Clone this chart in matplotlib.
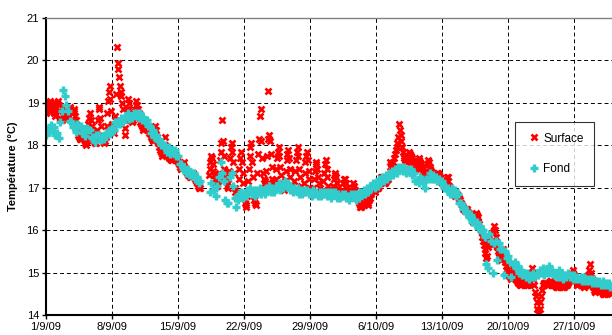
import numpy as np
import pandas as pd
import matplotlib
matplotlib.use("Agg")
import matplotlib.pyplot as plt

nan = np.nan

# surface: one row per day from 1/9/09, readings every 2 h (0h ... 22h)
surface_days = [
    [18.75, 18.80, 18.85, 18.95, 19.00, 19.05, 19.00, 18.95, 18.90, 18.80, 18.75, 18.70],
    [18.80, 18.90, 19.00, 19.05, 18.95, 18.80, 18.65, 18.60, 18.60, 18.70, 18.80, 18.85],
    [18.90, 18.85, 18.75, 18.70, 18.65, 18.70, 18.85, 18.90, 18.80, 18.75, 18.80, 18.85],
    [18.80, 18.70, 18.60, 18.45, 18.35, 18.25, 18.20, 18.15, 18.15, 18.25, 18.35, 18.30],
    [18.15, 18.10, 18.05, 18.00, 18.10, 18.30, 18.50, 18.65, 18.75, 18.60, 18.45, 18.30],
    [18.15, 18.10, 18.05, 18.05, 18.15, 18.35, 18.60, 18.85, 18.90, 18.65, 18.45, 18.25],
    [18.15, 18.10, 18.05, 18.10, 18.20, 18.45, 18.75, 19.05, 19.25, 19.40, 19.10, 18.80],
    [18.50, 18.35, 18.30, 18.40, 18.70, 19.20, 20.32, 19.95, 19.80, 19.60, 19.40, 19.25],
    [19.15, 19.00, 18.85, 18.60, 18.40, 18.25, 18.60, 18.85, 19.10, 19.00, 18.85, 18.70],
    [18.65, 18.60, 18.55, 18.60, 18.70, 18.80, 18.95, 19.05, 18.95, 18.85, 18.75, 18.65],
    [18.55, 18.50, 18.45, 18.35, 18.40, 18.50, 18.60, 18.55, 18.45, 18.40, 18.35, 18.30],
    [18.30, 18.25, 18.20, 18.15, 18.10, 18.20, 18.35, 18.45, 18.35, 18.20, 18.10, 18.05],
    [17.95, 17.90, 17.85, 17.80, 17.75, 17.85, 18.00, 18.20, 18.00, 17.85, 17.80, 17.75],
    [17.75, 17.70, 17.70, 17.65, 17.65, 17.70, 17.80, 17.85, 17.80, 17.75, 17.70, 17.65],
    [17.60, 17.55, 17.50, 17.50, 17.45, 17.50, 17.55, 17.60, 17.50, 17.45, 17.40, 17.35],
    [17.35, 17.30, 17.30, 17.25, 17.25, 17.30, 17.35, 17.35, 17.30, 17.25, 17.20, 17.15],
    [17.10, 17.05, 17.05, 17.00, 17.00, nan, nan, nan, nan, nan, nan, nan],
    [nan, nan, nan, 17.30, 17.45, 17.60, 17.75, 17.70, 17.55, 17.40, 17.30, 17.20],
    [17.10, 17.05, 17.05, 17.15, 17.35, 17.65, 17.85, 18.05, 18.60, 18.10, 17.75, 17.45],
    [17.25, 17.15, 17.05, 17.00, 17.10, 17.40, 17.70, 17.95, 18.05, 17.85, 17.60, 17.35],
    [17.00, 16.90, 16.80, 16.75, 16.90, 17.20, 17.45, 17.70, 17.85, 17.60, 17.35, 17.10],
    [16.75, 16.65, 16.60, 16.55, 16.80, 17.15, 17.45, 17.75, 17.95, 18.05, 17.60, 17.25],
    [16.80, 16.70, 16.65, 16.60, 16.95, 17.35, 17.80, 18.15, 18.70, 18.85, 18.10, 17.70],
    [17.35, 17.20, 17.15, 17.10, 17.40, 17.75, 18.15, 19.28, 18.25, 18.10, 17.80, 17.50],
    [17.20, 17.10, 17.05, 17.00, 17.20, 17.45, 17.70, 17.85, 17.95, 17.75, 17.50, 17.30],
    [17.10, 17.05, 17.00, 16.95, 17.15, 17.40, 17.65, 17.80, 17.90, 17.70, 17.45, 17.25],
    [17.05, 17.00, 16.95, 16.95, 17.15, 17.40, 17.65, 17.85, 17.95, 17.75, 17.45, 17.25],
    [17.05, 16.95, 16.90, 16.90, 17.10, 17.35, 17.60, 17.75, 17.85, 17.65, 17.40, 17.20],
    [17.00, 16.95, 16.90, 16.85, 17.00, 17.20, 17.40, 17.55, 17.60, 17.45, 17.25, 17.10],
    [17.00, 16.90, 16.85, 16.85, 16.95, 17.15, 17.35, 17.55, 17.65, 17.45, 17.25, 17.05],
    [16.95, 16.90, 16.85, 16.85, 16.90, 17.05, 17.20, 17.30, 17.35, 17.25, 17.10, 17.00],
    [16.90, 16.85, 16.80, 16.80, 16.85, 16.95, 17.10, 17.20, 17.20, 17.10, 17.00, 16.95],
    [16.85, 16.80, 16.80, 16.75, 16.80, 16.90, 17.00, 17.10, 17.05, 16.95, 16.85, 16.80],
    [16.75, 16.70, 16.65, 16.60, 16.55, 16.55, 16.60, 16.65, 16.60, 16.65, 16.70, 16.70],
    [16.70, 16.65, 16.60, 16.70, 16.75, 16.85, 16.90, 17.00, 17.00, 16.95, 16.90, 16.95],
    [17.00, 17.00, 17.00, 17.05, 17.10, 17.15, 17.25, 17.25, 17.20, 17.15, 17.10, 17.10],
    [17.15, 17.15, 17.20, 17.20, 17.30, 17.40, 17.60, 17.55, 17.45, 17.50, 17.60, 17.70],
    [17.80, 17.90, 17.95, 18.05, 18.20, 18.50, 18.35, 18.25, 18.10, 17.95, 17.85, 17.75],
    [17.70, 17.65, 17.60, 17.60, 17.65, 17.75, 17.85, 17.80, 17.75, 17.70, 17.65, 17.60],
    [17.55, 17.50, 17.45, 17.45, 17.50, 17.60, 17.70, 17.65, 17.60, 17.55, 17.50, 17.45],
    [17.40, 17.35, 17.30, 17.30, 17.40, 17.55, 17.65, 17.60, 17.50, 17.45, 17.40, 17.35],
    [17.30, 17.30, 17.25, 17.20, 17.20, 17.25, 17.35, 17.35, 17.30, 17.25, 17.20, 17.15],
    [17.10, 17.10, 17.05, 17.05, 17.05, 17.15, 17.25, 17.25, 17.15, 17.05, 17.00, 16.95],
    [16.90, 16.90, 16.85, 16.85, 16.80, 16.85, 16.85, 16.85, 16.80, 16.75, 16.75, 16.70],
    [16.65, 16.60, 16.55, 16.50, 16.50, 16.45, 16.50, 16.50, 16.45, 16.40, 16.40, 16.35],
    [16.30, 16.30, 16.25, 16.20, 16.20, 16.25, 16.35, 16.40, 16.35, 16.30, 16.20, 16.15],
    [16.05, 16.00, 15.95, 15.85, 15.75, 15.65, 15.55, 15.45, 15.35, 15.40, 15.60, 15.80],
    [15.75, 15.75, 15.70, 15.65, 15.75, 15.95, 16.10, 16.00, 15.85, 15.70, 15.60, 15.50],
    [15.45, 15.40, 15.35, 15.30, 15.40, 15.55, 15.45, 15.35, 15.25, 15.15, 15.05, 15.00],
    [14.95, 14.95, 14.90, 14.85, 14.90, 15.00, 15.10, 15.05, 14.95, 14.90, 14.85, 14.80],
    [14.80, 14.75, 14.75, 14.70, 14.70, 14.75, 14.85, 14.85, 14.80, 14.75, 14.75, 14.70],
    [14.70, 14.70, 14.75, 14.80, 14.90, 15.00, 15.10, 15.00, 14.85, 14.70, 14.55, 14.45],
    [14.30, 14.15, 14.05, 14.05, 14.15, 14.30, 14.45, 14.60, 14.70, 14.75, 14.75, 14.75],
    [14.75, 14.70, 14.70, 14.70, 14.75, 14.80, 14.80, 14.75, 14.75, 14.70, 14.70, 14.70],
    [14.70, 14.65, 14.65, 14.65, 14.70, 14.75, 14.75, 14.70, 14.70, 14.65, 14.65, 14.65],
    [14.70, 14.70, 14.70, 14.70, 14.75, 14.80, 14.85, 14.85, 14.90, 14.95, 15.00, 15.05],
    [14.95, 14.85, 14.80, 14.70, 14.70, 14.75, 14.80, 14.80, 14.75, 14.70, 14.70, 14.70],
    [14.65, 14.65, 14.70, 14.70, 14.75, 14.85, 14.95, 15.05, 15.20, 15.00, 14.85, 14.70],
    [14.65, 14.60, 14.55, 14.55, 14.60, 14.65, 14.70, 14.75, 14.70, 14.65, 14.60, 14.55],
    [14.55, 14.50, 14.50, 14.50, 14.55, 14.60, 14.70, 14.70, 14.65, 14.60, 14.55, 14.50],
]

# fond: one row per day from 1/9/09, readings every 4 h (0h ... 20h)
fond_days = [
    [18.25, 18.38, 18.32, 18.48, 18.35, 18.42],
    [18.25, 18.30, 18.18, 18.55, 18.80, 19.30],
    [19.15, 18.95, 18.80, 18.58, 18.55, 18.42],
    [18.45, 18.32, 18.50, 18.45, 18.45, 18.28],
    [18.35, 18.22, 18.40, 18.35, 18.35, 18.18],
    [18.20, 18.08, 18.25, 18.25, 18.25, 18.12],
    [18.20, 18.15, 18.30, 18.30, 18.36, 18.26],
    [18.40, 18.35, 18.55, 18.50, 18.56, 18.50],
    [18.65, 18.55, 18.70, 18.70, 18.76, 18.62],
    [18.70, 18.64, 18.76, 18.70, 18.75, 18.65],
    [18.75, 18.60, 18.66, 18.58, 18.60, 18.45],
    [18.45, 18.30, 18.35, 18.20, 18.25, 18.10],
    [18.15, 18.00, 18.05, 17.95, 18.00, 17.85],
    [17.95, 17.80, 17.90, 17.85, 17.90, 17.75],
    [17.75, 17.55, 17.55, 17.45, 17.50, 17.35],
    [17.45, 17.30, 17.35, 17.30, 17.35, 17.20],
    [17.25, 17.10, 17.15, nan, nan, nan],
    [nan, nan, 16.90, 17.10, 16.95, 16.95],
    [16.80, 17.05, 17.25, 17.60, 17.35, 17.15],
    [16.70, 16.65, 16.65, 17.25, 17.35, 17.05],
    [16.75, 16.55, 16.70, 16.85, 16.90, 16.75],
    [16.85, 16.80, 16.95, 16.95, 17.00, 16.85],
    [16.95, 16.80, 16.95, 16.90, 17.00, 16.85],
    [16.95, 16.85, 17.00, 16.95, 17.05, 16.90],
    [17.00, 16.90, 17.05, 17.00, 17.10, 16.95],
    [17.05, 17.00, 17.15, 17.05, 17.10, 16.95],
    [17.00, 16.90, 17.00, 16.95, 17.00, 16.85],
    [16.95, 16.85, 16.95, 16.90, 16.95, 16.85],
    [16.90, 16.80, 16.95, 16.85, 16.90, 16.80],
    [16.90, 16.80, 16.90, 16.85, 16.90, 16.80],
    [16.90, 16.75, 16.90, 16.85, 16.90, 16.75],
    [16.85, 16.75, 16.85, 16.80, 16.85, 16.75],
    [16.80, 16.72, 16.85, 16.80, 16.85, 16.70],
    [16.85, 16.75, 16.90, 16.85, 16.95, 16.85],
    [17.00, 16.90, 17.05, 17.00, 17.10, 17.00],
    [17.10, 17.05, 17.20, 17.15, 17.25, 17.15],
    [17.30, 17.20, 17.35, 17.30, 17.40, 17.30],
    [17.45, 17.35, 17.50, 17.45, 17.50, 17.40],
    [17.50, 17.35, 17.45, 17.40, 17.45, 17.30],
    [17.35, 17.15, 17.15, 17.10, 17.25, 17.20],
    [17.10, 17.00, 17.20, 17.20, 17.35, 17.20],
    [17.30, 17.20, 17.25, 17.15, 17.20, 17.10],
    [17.15, 17.00, 17.05, 16.95, 17.00, 16.85],
    [17.00, 16.85, 16.95, 16.80, 16.85, 16.65],
    [16.65, 16.50, 16.55, 16.40, 16.45, 16.30],
    [16.35, 16.20, 16.25, 16.15, 16.20, 16.05],
    [16.10, 15.95, 16.00, 15.85, 15.20, 15.10],
    [15.90, 15.75, 15.00, 15.70, 15.75, 15.30],
    [15.70, 15.55, 15.55, 14.95, 15.50, 15.35],
    [15.40, 15.25, 14.90, 15.20, 15.25, 15.10],
    [15.15, 15.00, 15.05, 14.95, 15.00, 14.90],
    [15.00, 14.85, 14.95, 14.90, 15.00, 14.90],
    [15.00, 14.95, 15.05, 15.00, 15.10, 14.95],
    [15.05, 15.00, 15.15, 15.00, 15.05, 14.95],
    [15.00, 14.90, 15.05, 14.90, 15.00, 14.85],
    [14.95, 14.90, 15.00, 14.90, 14.95, 14.85],
    [14.95, 14.85, 14.90, 14.85, 14.90, 14.80],
    [14.90, 14.80, 14.85, 14.80, 14.85, 14.75],
    [14.85, 14.75, 14.80, 14.75, 14.80, 14.70],
    [14.80, 14.70, 14.75, 14.70, 14.75, 14.65],
]

tick_dates = ["2009-09-01", "2009-09-08", "2009-09-15", "2009-09-22", "2009-09-29",
              "2009-10-06", "2009-10-13", "2009-10-20", "2009-10-27"]
tick_labels = ["1/9/09", "8/9/09", "15/9/09", "22/9/09", "29/9/09",
               "6/10/09", "13/10/09", "20/10/09", "27/10/09"]

surface = np.array(surface_days).ravel()
fond = np.array(fond_days).ravel()
surface_times = pd.date_range("2009-09-01", periods=len(surface), freq="2h")
fond_times = pd.date_range("2009-09-01", periods=len(fond), freq="4h")

plt.rcParams["font.family"] = ["Liberation Sans", "DejaVu Sans"]

fig = plt.figure(figsize=(6.12, 3.35), dpi=100)
ax = fig.add_axes([46 / 612, 20 / 335, 566 / 612, 297 / 335])

ax.plot(surface_times, surface, linestyle="none", marker="x", ms=4.8, mew=1.9,
        color="#ff0000", label="Surface")
ax.plot(fond_times, fond, linestyle="none", marker="+", ms=6.4, mew=2.4,
        color="#33cccc", label="Fond")

ax.set_xlim(pd.Timestamp("2009-09-01"), pd.Timestamp("2009-10-31"))
ax.set_ylim(14, 21)
ax.set_xticks(pd.to_datetime(tick_dates))
ax.set_xticklabels(tick_labels)
ax.set_yticks(range(14, 22))
ax.tick_params(labelsize=8, length=3, width=1, color="black", pad=2)

ax.grid(True, color="black", linestyle=(0, (4, 3)), linewidth=0.7)
ax.set_axisbelow(True)
for side in ["left", "bottom"]:
    ax.spines[side].set_color("black")
    ax.spines[side].set_linewidth(1.5)
ax.spines["top"].set_color("#808080")
ax.spines["top"].set_linewidth(1.0)
ax.spines["right"].set_visible(False)

ax.set_ylabel("Température (°C)", fontsize=8, fontweight="bold", labelpad=6)

leg = ax.legend(loc="upper left", bbox_to_anchor=(469 / 566, 1 - 104 / 297),
                fontsize=8.5, frameon=True, fancybox=False, edgecolor="black",
                labelspacing=1.55, handlelength=1.4, handletextpad=0.1,
                borderpad=0.9, borderaxespad=0)
leg.get_frame().set_linewidth(0.8)

fig.savefig("out.png", dpi=100)
